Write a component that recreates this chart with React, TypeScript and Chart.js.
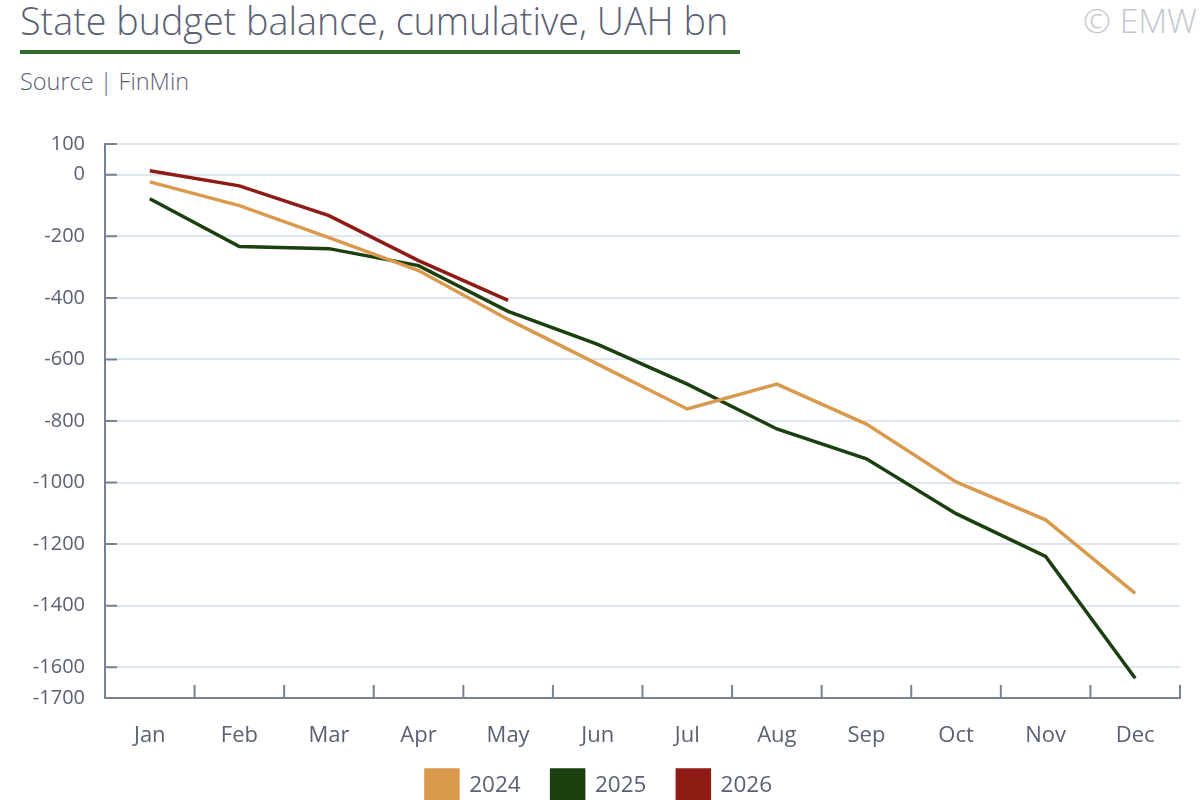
import React, { useEffect, useRef } from 'react';
import { Chart, registerables } from 'chart.js';

Chart.register(...registerables);

const months = ['Jan', 'Feb', 'Mar', 'Apr', 'May', 'Jun', 'Jul', 'Aug', 'Sep', 'Oct', 'Nov', 'Dec'];
const balance2024 = [-23, -100, -204, -311, -470, -615, -761, -680, -810, -998, -1121, -1360];
const balance2025 = [-78, -233, -240, -295, -444, -551, -680, -826, -923, -1101, -1240, -1636];
const balance2026 = [13, -36, -133, -279, -408];
const yTicks = [100, 0, -200, -400, -600, -800, -1000, -1200, -1400, -1600, -1700];

const FONT = '"Open Sans", Lato, sans-serif';
const TEXT = '#5b6075';
const AXIS = '#7a8196';

// short inward tick marks, like the original
const innerTicks = {
  id: 'innerTicks',
  afterDatasetsDraw(chart: Chart) {
    const { ctx, chartArea } = chart;
    const y = chart.scales.y;
    ctx.save();
    ctx.strokeStyle = AXIS;
    ctx.lineWidth = 2;
    ctx.beginPath();
    yTicks.forEach((v) => {
      const py = y.getPixelForValue(v);
      ctx.moveTo(chartArea.left, py);
      ctx.lineTo(chartArea.left + 12, py);
    });
    const step = (chartArea.right - chartArea.left) / months.length;
    for (let i = 0; i <= months.length; i++) {
      const px = chartArea.left + i * step;
      ctx.moveTo(px, chartArea.bottom);
      ctx.lineTo(px, chartArea.bottom - 13);
    }
    ctx.stroke();
    ctx.restore();
  },
};

// pull the legend up a little so it sits closer to the month labels
const legendNudge = {
  id: 'legendNudge',
  afterLayout(chart: Chart) {
    const lg: any = chart.legend;
    if (lg) {
      lg.top -= 10;
      lg.bottom -= 10;
      lg.left += 9;
      lg.right += 9;
    }
  },
};

const BudgetChart: React.FC = () => {
  const chartRef = useRef<HTMLCanvasElement>(null);
  const chartInstance = useRef<Chart | null>(null);

  useEffect(() => {
    document.body.style.margin = '0';
    document.body.style.overflow = 'hidden';
    if (!chartRef.current) return;
    const ctx = chartRef.current.getContext('2d');
    if (!ctx) return;
    if (chartInstance.current) chartInstance.current.destroy();

    const line = (label: string, data: number[], color: string) => ({
      label,
      data,
      borderColor: color,
      backgroundColor: color,
      borderWidth: 3.5,
      pointRadius: 0,
      tension: 0,
    });

    chartInstance.current = new Chart(ctx, {
      type: 'line',
      data: {
        labels: months,
        datasets: [
          line('2024', balance2024, '#d99a4e'),
          line('2025', balance2025, '#1b3f0f'),
          line('2026', balance2026, '#8e1b14'),
        ],
      },
      plugins: [innerTicks, legendNudge],
      options: {
        animation: false,
        responsive: false,
        layout: { padding: { top: 144, right: 20, left: 0, bottom: 0 } },
        plugins: {
          legend: {
            position: 'bottom',
            labels: {
              boxWidth: 32,
              boxHeight: 32,
              padding: 31,
              color: TEXT,
              font: { family: FONT, size: 22.5 },
            },
          },
          tooltip: { enabled: false },
        },
        scales: {
          x: {
            offset: true,
            grid: { display: false, drawTicks: false },
            border: { color: AXIS, width: 2 },
            ticks: { color: TEXT, font: { family: FONT, size: 22 }, padding: 25 },
            afterFit: (scale) => {
              scale.height = 51;
            },
          },
          y: {
            min: -1700,
            max: 100,
            afterBuildTicks: (axis) => {
              axis.ticks = yTicks.map((value) => ({ value }));
            },
            afterFit: (scale) => {
              scale.width = 105;
            },
            grid: {
              drawTicks: false,
              color: (c) => (c.tick && c.tick.value === -1700 ? 'rgba(0,0,0,0)' : '#dde6ef'),
              lineWidth: 2,
            },
            border: { color: AXIS, width: 2 },
            ticks: {
              color: TEXT,
              font: { family: FONT, size: 20 },
              padding: 20,
              autoSkip: false,
              callback: (v) => String(v),
            },
          },
        },
      },
    });

    return () => {
      if (chartInstance.current) {
        chartInstance.current.destroy();
        chartInstance.current = null;
      }
    };
  }, []);

  return (
    <div style={{ position: 'relative', width: 1200, height: 800, overflow: 'hidden', fontFamily: FONT, background: '#fff' }}>
      <div style={{ position: 'absolute', left: 20, top: -2, fontSize: 37.7, fontWeight: 300, color: TEXT, lineHeight: '46px', whiteSpace: 'nowrap' }}>
        State budget balance, cumulative, UAH bn
      </div>
      <div style={{ position: 'absolute', left: 20, top: 50, width: 720, height: 4, background: '#2e6b2b' }} />
      <div style={{ position: 'absolute', left: 20, top: 65, fontSize: 23.5, fontWeight: 300, color: TEXT, whiteSpace: 'nowrap' }}>
        Source | FinMin
      </div>
      <div style={{ position: 'absolute', right: 3, top: -1, fontSize: 33.5, fontWeight: 300, color: '#c3c7cf', lineHeight: '42px' }}>
        © EMW
      </div>
      <canvas ref={chartRef} width={1200} height={822} style={{ position: 'absolute', left: 0, top: 0 }} />
    </div>
  );
};

export default function App() {
  return <BudgetChart />;
}
